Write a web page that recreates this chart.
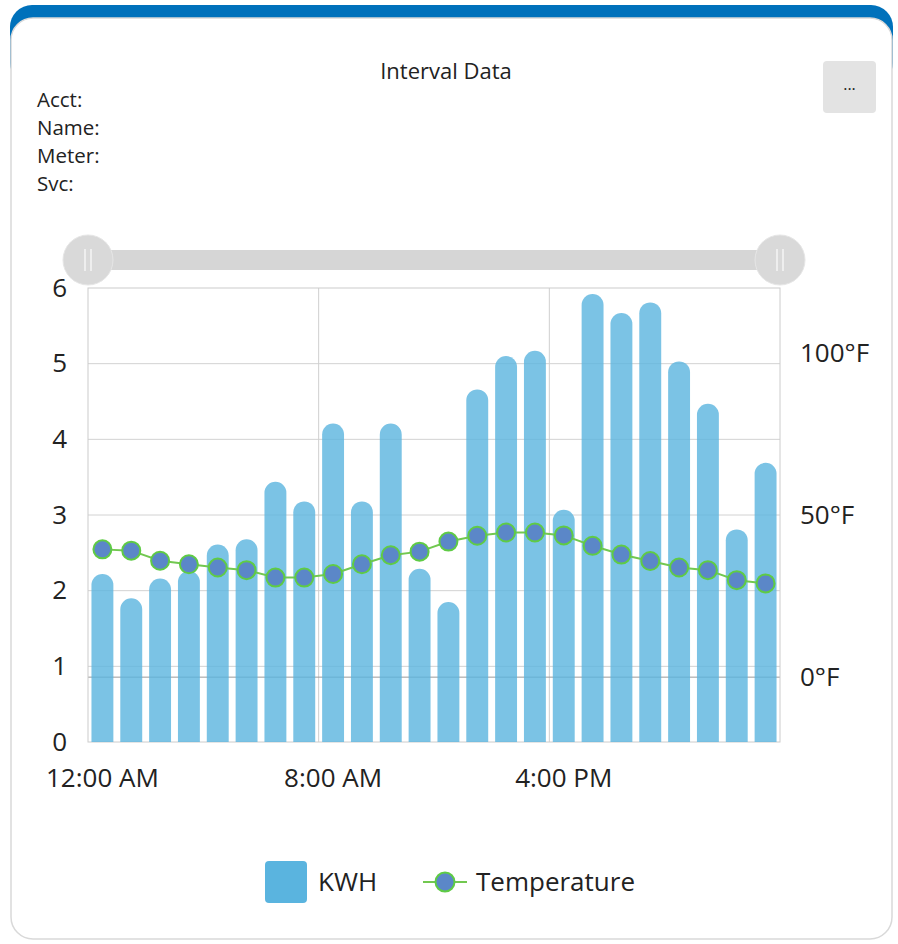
<!DOCTYPE html>
<html lang="en">
  <head>
    <meta charset="UTF-8" />
    <title>Interval Data</title>
    <style>
      body {
        margin: 0;
        background: #ffffff;
      }
      #my_dataviz {
        width: 898px;
        height: 944px;
      }
      text {
        font-family: "Open Sans", sans-serif;
        fill: #222222;
      }
    </style>
  </head>
  <body>
    <div id="my_dataviz"></div>
    <script src="https://cdn.jsdelivr.net/npm/d3@7"></script>
    <script>
      // data
      var hours = d3.range(0, 24);
      var kwh = [
        2.22, 1.9, 2.16, 2.26, 2.61, 2.68, 3.44, 3.18, 4.21, 3.18, 4.21, 2.29,
        1.85, 4.66, 5.1, 5.17, 3.07, 5.92, 5.67, 5.81, 5.03, 4.47, 2.81, 3.69,
      ];
      var temperature = [
        39.4, 39.0, 35.9, 34.8, 33.8, 33.0, 30.7, 30.7, 31.8, 34.8, 37.6, 38.7,
        41.8, 43.6, 44.6, 44.6, 43.7, 40.5, 37.8, 35.8, 33.8, 33.0, 29.9, 28.9,
      ];
      var kwhTicks = [0, 1, 2, 3, 4, 5, 6];
      var tempTicks = [0, 50, 100];
      var timeTicks = [0, 8, 16];
      var timeLabels = ["12:00 AM", "8:00 AM", "4:00 PM"];
      var infoLabels = ["Acct:", "Name:", "Meter:", "Svc:"];

      var width = 898;
      var height = 944;
      var margin = { top: 288, right: 118, bottom: 202, left: 88 };
      var axisFont = 26;

      var svg = d3
        .select("#my_dataviz")
        .append("svg")
        .attr("width", width)
        .attr("height", height);

      // card with blue top
      svg
        .append("rect")
        .attr("x", 10)
        .attr("y", 5)
        .attr("width", 883)
        .attr("height", 80)
        .attr("rx", 22)
        .attr("fill", "#0071bb");
      svg
        .append("rect")
        .attr("x", 11)
        .attr("y", 18)
        .attr("width", 881)
        .attr("height", 921)
        .attr("rx", 22)
        .attr("fill", "#ffffff")
        .attr("stroke", "#d9d9d9")
        .attr("stroke-width", 1.5);

      // header
      svg
        .append("text")
        .attr("x", 446)
        .attr("y", 71)
        .attr("dy", "0.35em")
        .attr("text-anchor", "middle")
        .attr("font-size", 22)
        .text("Interval Data");

      svg
        .selectAll(".info")
        .data(infoLabels)
        .enter()
        .append("text")
        .attr("class", "info")
        .attr("x", 37)
        .attr("y", function (d, i) {
          return 100 + i * 28;
        })
        .attr("dy", "0.35em")
        .attr("font-size", 20.5)
        .text(function (d) {
          return d;
        });

      svg
        .append("rect")
        .attr("x", 823)
        .attr("y", 61)
        .attr("width", 53)
        .attr("height", 52)
        .attr("rx", 4)
        .attr("fill", "#e3e3e3");
      svg
        .append("text")
        .attr("x", 849.5)
        .attr("y", 90)
        .attr("text-anchor", "middle")
        .attr("font-size", 16)
        .text("...");

      // scales
      var x = d3
        .scaleBand()
        .domain(hours)
        .range([margin.left, width - margin.right])
        .paddingInner(0.24)
        .paddingOuter(0.12);

      var gridX = function (h) {
        return x.range()[0] + h * x.step();
      };

      var y = d3
        .scaleLinear()
        .domain([0, 6])
        .range([height - margin.bottom, margin.top]);

      var yTemp = d3
        .scaleLinear()
        .domain([-20, 120])
        .range([height - margin.bottom, margin.top]);

      // range slider
      var sliderY = 260;
      svg
        .append("rect")
        .attr("x", gridX(0))
        .attr("y", sliderY - 10)
        .attr("width", gridX(24) - gridX(0))
        .attr("height", 20)
        .attr("fill", "#d6d6d6");

      var handles = svg
        .selectAll(".handle")
        .data([0, 24])
        .enter()
        .append("g")
        .attr("class", "handle")
        .attr("transform", function (d) {
          return "translate(" + gridX(d) + "," + sliderY + ")";
        });
      handles
        .append("circle")
        .attr("r", 25)
        .attr("fill", "#d9d9d9")
        .attr("stroke", "#e6e6e6");
      handles
        .selectAll("line")
        .data([-3, 3])
        .enter()
        .append("line")
        .attr("x1", function (d) {
          return d;
        })
        .attr("x2", function (d) {
          return d;
        })
        .attr("y1", -11)
        .attr("y2", 11)
        .attr("stroke", "#f4f4f4")
        .attr("stroke-width", 1.5);

      // grid
      svg
        .selectAll(".hgrid")
        .data(kwhTicks.slice(1, -1))
        .enter()
        .append("line")
        .attr("class", "hgrid")
        .attr("x1", gridX(0))
        .attr("x2", gridX(24))
        .attr("y1", function (d) {
          return y(d);
        })
        .attr("y2", function (d) {
          return y(d);
        })
        .attr("stroke", "#d2d2d2");

      svg
        .selectAll(".vgrid")
        .data([8, 16])
        .enter()
        .append("line")
        .attr("class", "vgrid")
        .attr("x1", gridX)
        .attr("x2", gridX)
        .attr("y1", y(0))
        .attr("y2", y(6))
        .attr("stroke", "#cfcfcf");

      svg
        .append("line")
        .attr("x1", gridX(0))
        .attr("x2", gridX(24))
        .attr("y1", yTemp(0))
        .attr("y2", yTemp(0))
        .attr("stroke", "#9a9a9a");

      svg
        .append("rect")
        .attr("x", gridX(0))
        .attr("y", y(6))
        .attr("width", gridX(24) - gridX(0))
        .attr("height", y(0) - y(6))
        .attr("fill", "none")
        .attr("stroke", "#cccccc");

      // bars with round tops
      var barPath = function (d, i) {
        var bx = x(hours[i]);
        var w = x.bandwidth();
        var r = w / 2;
        var top = y(d);
        var bottom = y(0);
        return (
          "M" + bx + "," + bottom +
          "V" + (top + r) +
          "A" + r + "," + r + " 0 0 1 " + (bx + w) + "," + (top + r) +
          "V" + bottom + "Z"
        );
      };

      svg
        .selectAll(".bar")
        .data(kwh)
        .enter()
        .append("path")
        .attr("class", "bar")
        .attr("d", barPath)
        .attr("fill", "#5ab4df")
        .attr("fill-opacity", 0.8);

      // temperature line
      var line = d3
        .line()
        .x(function (d, i) {
          return x(hours[i]) + x.bandwidth() / 2;
        })
        .y(function (d) {
          return yTemp(d);
        });

      svg
        .append("path")
        .attr("d", line(temperature))
        .attr("fill", "none")
        .attr("stroke", "#72c850")
        .attr("stroke-width", 2);

      svg
        .selectAll(".dot")
        .data(temperature)
        .enter()
        .append("circle")
        .attr("class", "dot")
        .attr("cx", function (d, i) {
          return x(hours[i]) + x.bandwidth() / 2;
        })
        .attr("cy", function (d) {
          return yTemp(d);
        })
        .attr("r", 9)
        .attr("fill", "#5b87c8")
        .attr("stroke", "#5fcb45")
        .attr("stroke-width", 2);

      // axes
      var yAxis = svg
        .append("g")
        .attr("transform", "translate(" + gridX(0) + ",0)")
        .call(
          d3
            .axisLeft(y)
            .tickValues(kwhTicks)
            .tickSize(0)
            .tickPadding(21)
            .tickFormat(d3.format("d"))
        );
      yAxis.select(".domain").remove();
      yAxis
        .selectAll("text")
        .attr("font-size", axisFont)
        .attr("font-family", "Open Sans")
        .attr("fill", "#222");

      var yAxisRight = svg
        .append("g")
        .attr("transform", "translate(" + gridX(24) + ",0)")
        .call(
          d3
            .axisRight(yTemp)
            .tickValues(tempTicks)
            .tickSize(0)
            .tickPadding(20)
            .tickFormat(function (d) {
              return d + "°F";
            })
        );
      yAxisRight.select(".domain").remove();
      yAxisRight
        .selectAll("text")
        .attr("font-size", axisFont)
        .attr("font-family", "Open Sans")
        .attr("fill", "#222");

      var xAxis = svg
        .append("g")
        .attr("transform", "translate(0," + y(0) + ")")
        .call(
          d3
            .axisBottom(x)
            .tickValues(timeTicks)
            .tickSize(0)
            .tickPadding(27)
            .tickFormat(function (d, i) {
              return timeLabels[i];
            })
        );
      xAxis.select(".domain").remove();
      xAxis
        .selectAll("text")
        .attr("font-size", axisFont)
        .attr("font-family", "Open Sans")
        .attr("fill", "#222");

      // legend
      var legendY = 882;
      svg
        .append("rect")
        .attr("x", 265)
        .attr("y", legendY - 21)
        .attr("width", 42)
        .attr("height", 42)
        .attr("rx", 4)
        .attr("fill", "#5ab4df");
      svg
        .append("text")
        .attr("x", 318)
        .attr("y", legendY)
        .attr("dy", "0.35em")
        .attr("font-size", axisFont)
        .text("KWH");
      svg
        .append("line")
        .attr("x1", 423)
        .attr("x2", 467)
        .attr("y1", legendY)
        .attr("y2", legendY)
        .attr("stroke", "#72c850")
        .attr("stroke-width", 2);
      svg
        .append("circle")
        .attr("cx", 445)
        .attr("cy", legendY)
        .attr("r", 9.5)
        .attr("fill", "#5b87c8")
        .attr("stroke", "#5fcb45")
        .attr("stroke-width", 2);
      svg
        .append("text")
        .attr("x", 476)
        .attr("y", legendY)
        .attr("dy", "0.35em")
        .attr("font-size", axisFont)
        .text("Temperature");
    </script>
  </body>
</html>
